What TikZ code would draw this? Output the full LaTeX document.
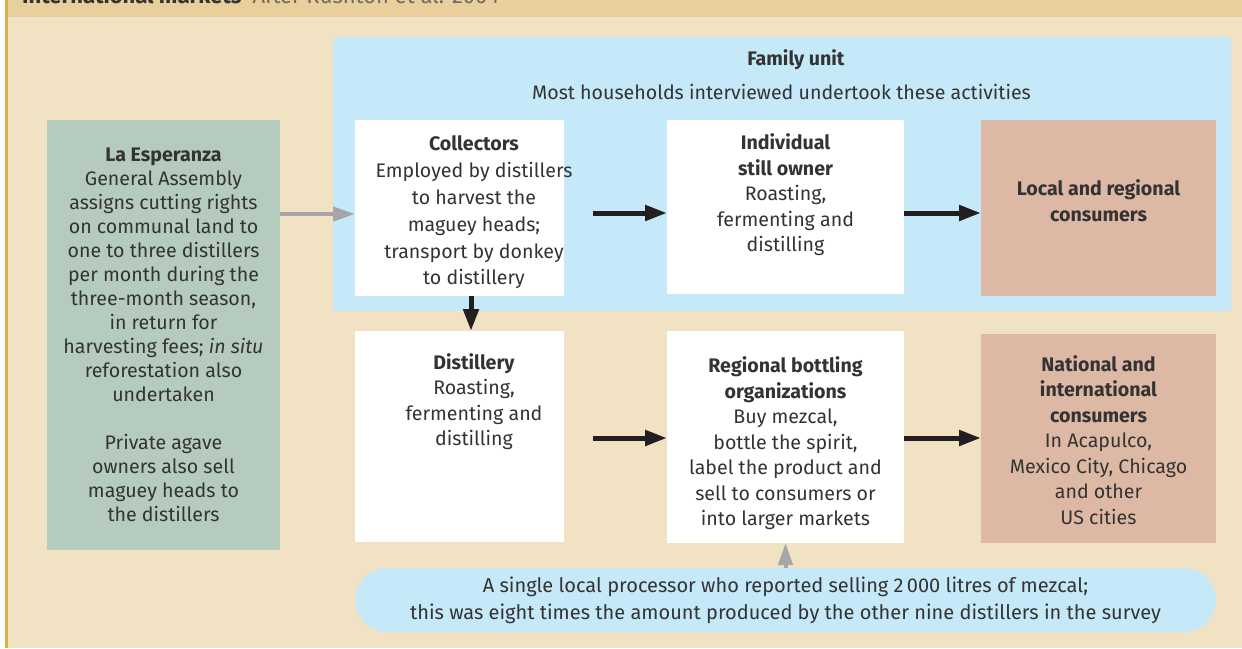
\documentclass[tikz,border=0pt]{standalone}
\usepackage{fontspec}
\setmainfont{Fira Sans}
\usetikzlibrary{arrows.meta,calc}
\definecolor{bgc}{HTML}{F2E2C4}
\definecolor{hdrc}{HTML}{E8CF9B}
\definecolor{goldc}{HTML}{D6B04B}
\definecolor{bluec}{HTML}{C6E9F9}
\definecolor{greenc}{HTML}{B6CBBF}
\definecolor{pinkc}{HTML}{DDB8A4}
\definecolor{arrgray}{HTML}{A6A6A8}
\definecolor{arrdark}{HTML}{231F20}
\definecolor{txtc}{HTML}{333333}
\definecolor{subc}{HTML}{6E6A63}
\tikzset{
  panel/.style={inner sep=0pt, outer sep=0pt},
  txt/.style={text=txtc, align=center, inner sep=0pt, font=\fontsize{19.6}{25.5}\selectfont},
  darr/.style={draw=arrdark, line width=5pt, -{Triangle[length=22pt,width=15pt]}},
  garr/.style={draw=arrgray, line width=4pt, -{Triangle[length=22pt,width=14pt]}},
}
\begin{document}
\begin{tikzpicture}[x=1pt,y=-1pt]
\useasboundingbox (0,0) rectangle (1242,648);
\fill[bgc] (7,0) rectangle (1242,648);
\fill[hdrc] (7,0) rectangle (1242,16.5);
\fill[goldc] (5,0) rectangle (7.5,648);
\node[anchor=base west, inner sep=0pt, text=txtc, font=\fontsize{22}{24}\selectfont] (title) at (22,3)
  {\textbf{International markets}\hspace{11pt}{\color{subc}After Rushton et al. 2004}};

% panels
\node[panel, fill=bluec, minimum width=898pt, minimum height=274pt] (family) at (782,174) {};
\node[panel, fill=greenc, minimum width=233pt, minimum height=430pt] (esper) at (163.5,335) {};
\node[panel, fill=white, minimum width=209pt, minimum height=176pt] (coll) at (459.5,208) {};
\node[panel, fill=white, minimum width=237pt, minimum height=174pt] (indiv) at (785.5,207) {};
\node[panel, fill=pinkc, minimum width=235pt, minimum height=176pt] (local) at (1098.5,208) {};
\node[panel, fill=white, minimum width=209pt, minimum height=211pt] (dist) at (459.5,436.5) {};
\node[panel, fill=white, minimum width=237pt, minimum height=212pt] (bottl) at (785.5,437) {};
\node[panel, fill=pinkc, minimum width=235pt, minimum height=209pt] (natl) at (1098.5,438.5) {};
\node[panel, fill=bluec, rounded corners=32pt, minimum width=861pt, minimum height=64pt] (single) at (785.5,600) {};

% texts
\node[txt] (familyt) at (796,60) {\textbf{Family unit}};
\node[txt] (familys) at (781.5,92) {Most households interviewed undertook these activities};
\node[txt, font=\fontsize{19.6}{24}\selectfont] (espert) at (163.5,334.5)
  {\textbf{La Esperanza}\\General Assembly\\assigns cutting rights\\on communal land to\\one to three distillers\\per month during the\\three-month season,\\in return for\\harvesting fees; \textit{in situ}\\reforestation also\\undertaken\\[24pt]Private agave\\owners also sell\\maguey heads to\\the distillers};
\node[txt, font=\fontsize{19.6}{26.8}\selectfont] (collt) at (474,212.5)
  {\textbf{Collectors}\\Employed by distillers\\to harvest the\\maguey heads;\\transport by donkey\\to distillery};
\node[txt] (indivt) at (785.5,195)
  {\textbf{Individual}\\\textbf{still owner}\\Roasting,\\fermenting and\\distilling};
\node[txt] (localt) at (1098.5,200.5) {\textbf{Local and regional}\\\textbf{consumers}};
\node[txt] (distt) at (474,401.5) {\textbf{Distillery}\\Roasting,\\fermenting and\\distilling};
\node[txt] (bottlt) at (785.5,443.5)
  {\textbf{Regional bottling}\\\textbf{organizations}\\Buy mezcal,\\bottle the spirit,\\label the product and\\sell to consumers or\\into larger markets};
\node[txt] (natlt) at (1098.5,440)
  {\textbf{National and}\\\textbf{international}\\\textbf{consumers}\\In Acapulco,\\Mexico City, Chicago\\and other\\US cities};
\node[txt, font=\fontsize{20}{27}\selectfont] (singlet) at (785.5,600)
  {A single local processor who reported selling 2\,000 litres of mezcal;\\this was eight times the amount produced by the other nine distillers in the survey};

% connectors
\draw[garr] ([yshift=-6pt]coll.west -| esper.east) -- ([yshift=-6pt]coll.west);
\draw[darr, shorten <=29pt] ([yshift=-5pt]coll.east) -- ([yshift=-5pt]coll.east -| indiv.west);
\draw[darr] ([yshift=-5pt]coll.east -| indiv.east) -- ([yshift=-5pt]coll.east -| local.west);
\draw[darr] ([xshift=11.5pt]coll.south) -- ([xshift=11.5pt]coll.south |- dist.north);
\draw[darr, shorten <=29pt] ([yshift=-1.5pt]dist.east) -- ([yshift=-1.5pt]dist.east -| bottl.west);
\draw[darr] ([yshift=-1.5pt]dist.east -| bottl.east) -- ([yshift=-1.5pt]dist.east -| natl.west);
\draw[garr] (single.north) -- (bottl.south);
\end{tikzpicture}
\end{document}
